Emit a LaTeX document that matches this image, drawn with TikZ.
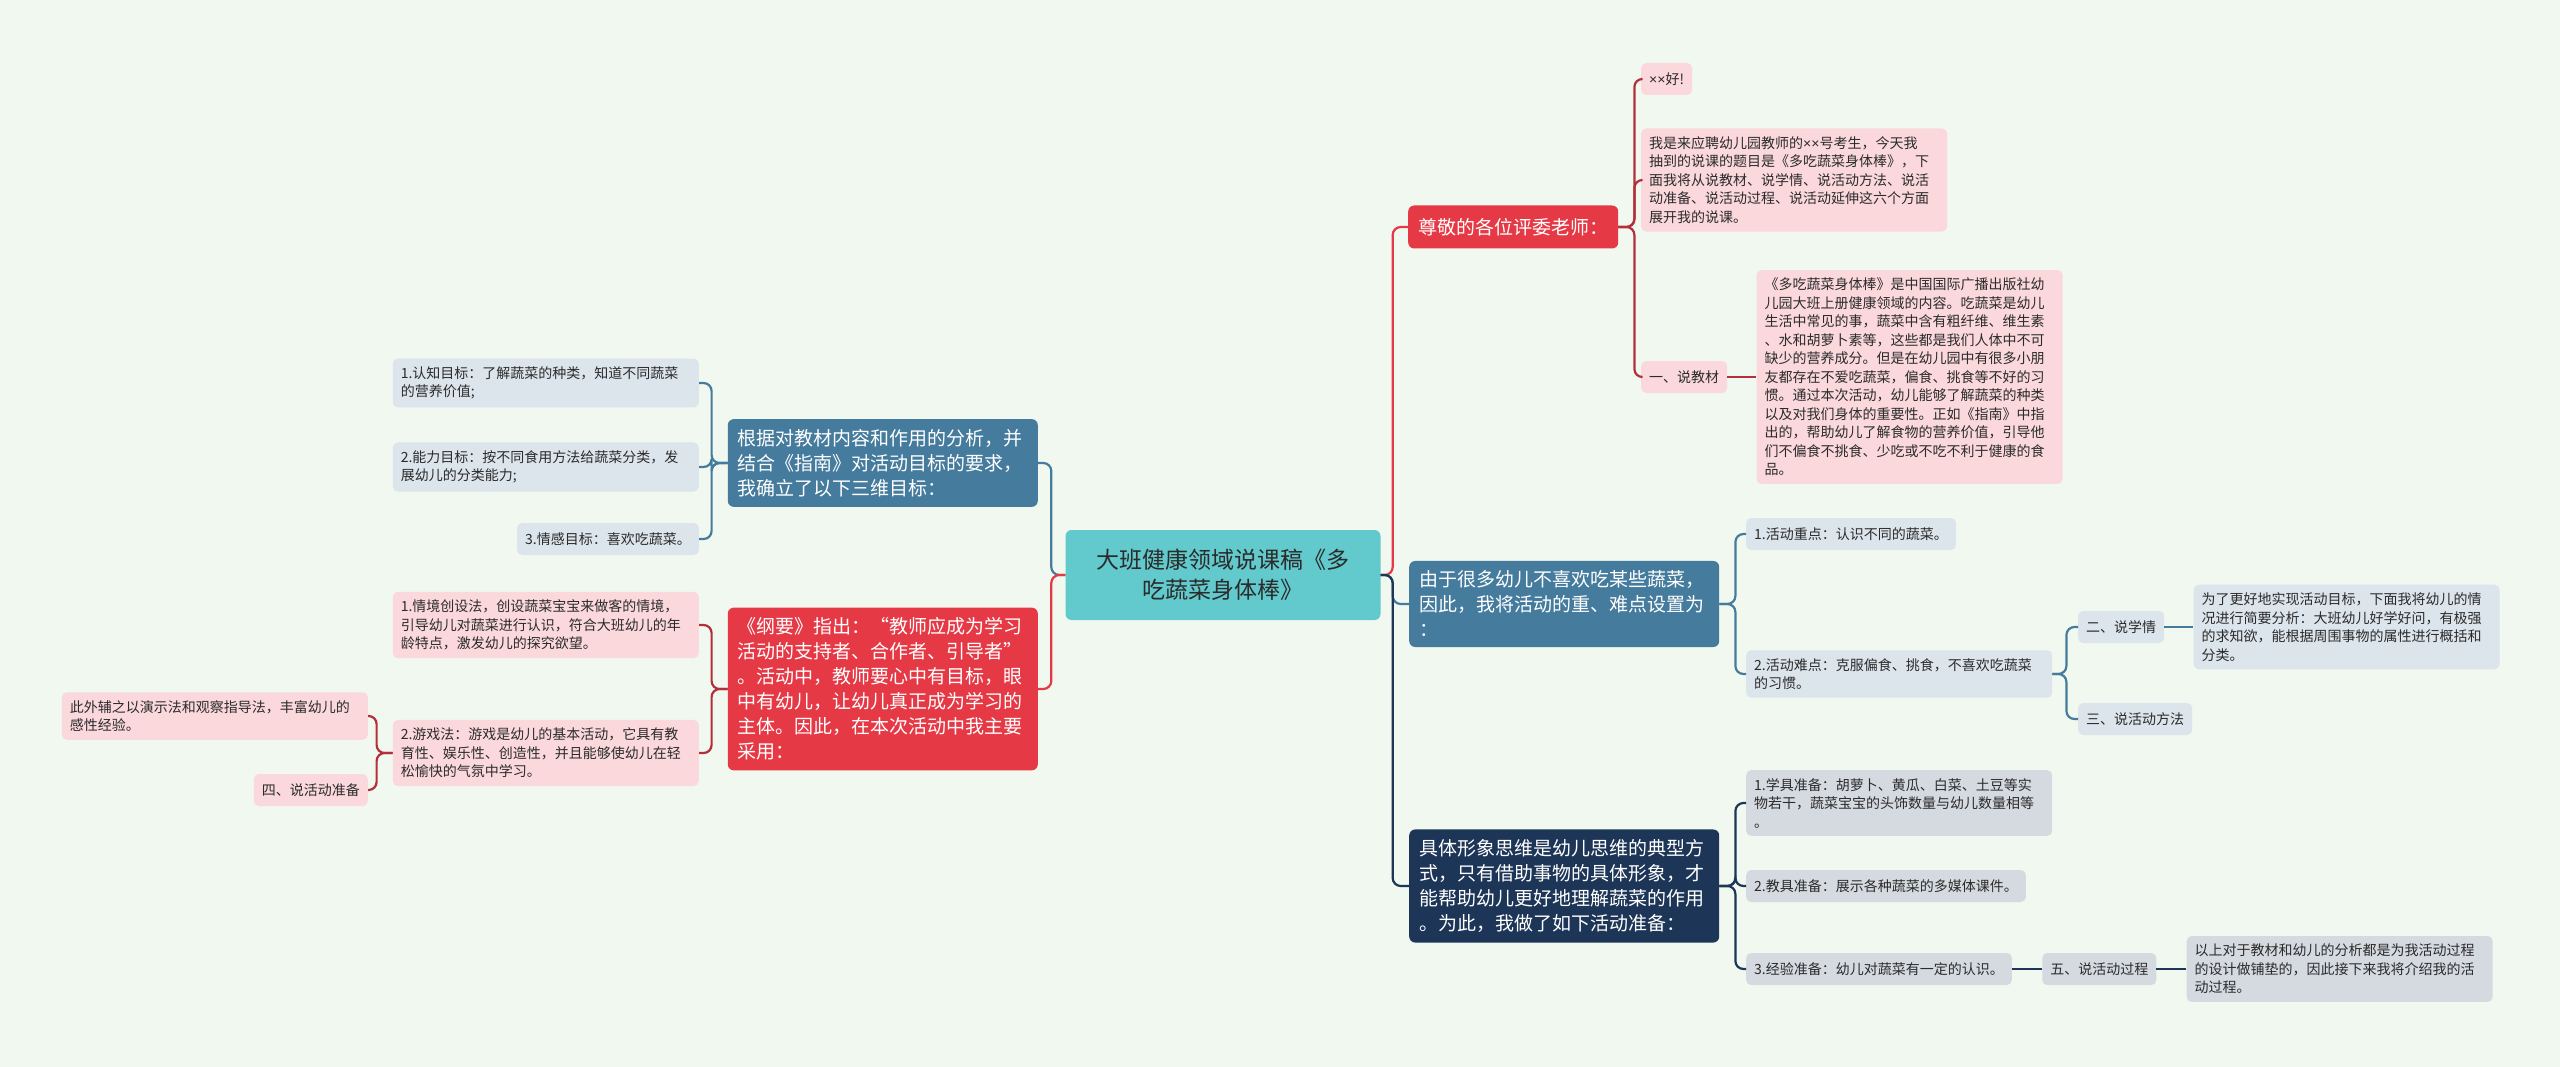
\documentclass[tikz,border=0pt]{standalone}
\usepackage{fontspec}
\setmainfont{Noto Sans CJK SC}
\newfontfamily\latinfont{Liberation Sans}
\usetikzlibrary{positioning}
\definecolor{bg}{HTML}{F1F8EF}
\definecolor{tealroot}{HTML}{62C9CC}
\definecolor{steel}{HTML}{457B9D}
\definecolor{crimson}{HTML}{E63946}
\definecolor{darkred}{HTML}{B3303B}
\definecolor{navy}{HTML}{1D3557}
\definecolor{pinkbox}{HTML}{FAD8DC}
\definecolor{bluebox}{HTML}{DCE4EC}
\definecolor{greybox}{HTML}{D5D9E0}
\definecolor{txt}{HTML}{2B2B2B}
\newcommand{\xx}{{\latinfont ××}}

\begin{document}
\begin{tikzpicture}[
  x=1pt, y=-1pt,
  rootbox/.style={fill=tealroot, rounded corners=6pt, text=txt, align=center, text width=290pt, inner xsep=12.5pt, minimum height=90pt, font=\fontsize{23}{30}\selectfont},
  mainbox/.style={rounded corners=6pt, text=white, align=left, inner xsep=10pt, inner ysep=10pt, minimum height=43pt, font=\fontsize{19}{25}\selectfont},
  mainwide/.style={mainbox, text width=290pt},
  leaf/.style={rounded corners=5pt, text=txt, align=left, inner xsep=8pt, inner ysep=8pt, minimum height=32pt, font=\fontsize{14}{18.5}\selectfont},
  pinkleaf/.style={leaf, fill=pinkbox},
  blueleaf/.style={leaf, fill=bluebox},
  greyleaf/.style={leaf, fill=greybox},
  wide/.style={text width=290pt},
  conn/.style={line width=2.2pt, rounded corners=8pt},
]
\fill[bg] (0,0) rectangle (2560,1067);
\useasboundingbox (0,0) rectangle (2560,1067);

% centre
\node[rootbox] (root) at (1223,575) {大班健康领域说课稿《多\\吃蔬菜身体棒》};

% left branches
\node[mainwide, fill=steel, anchor=east] (b1) at (1038,463) {根据对教材内容和作用的分析，并\\结合《指南》对活动目标的要求，\\我确立了以下三维目标：};
\node[mainwide, fill=crimson, anchor=east] (r1) at (1038,689) {《纲要》指出：“教师应成为学习\\活动的支持者、合作者、引导者”\\。活动中，教师要心中有目标，眼\\中有幼儿，让幼儿真正成为学习的\\主体。因此，在本次活动中我主要\\采用：};

\node[blueleaf, wide, anchor=east] (l1) at (699,383) {1.认知目标：了解蔬菜的种类，知道不同蔬菜\\的营养价值;};
\node[blueleaf, wide, anchor=east] (l2) at (699,467) {2.能力目标：按不同食用方法给蔬菜分类，发\\展幼儿的分类能力;};
\node[blueleaf, anchor=east] (l3) at (699,539) {3.情感目标：喜欢吃蔬菜。};

\node[pinkleaf, wide, anchor=east] (p1) at (699,625) {1.情境创设法，创设蔬菜宝宝来做客的情境，\\引导幼儿对蔬菜进行认识，符合大班幼儿的年\\龄特点，激发幼儿的探究欲望。};
\node[pinkleaf, wide, anchor=east] (p2) at (699,753) {2.游戏法：游戏是幼儿的基本活动，它具有教\\育性、娱乐性、创造性，并且能够使幼儿在轻\\松愉快的气氛中学习。};
\node[pinkleaf, wide, anchor=east] (q1) at (368,716) {此外辅之以演示法和观察指导法，丰富幼儿的\\感性经验。};
\node[pinkleaf, anchor=east] (q2) at (368,790) {四、说活动准备};

% right branches
\node[mainbox, fill=crimson, anchor=west] (rr1) at (1408,227) {尊敬的各位评委老师：};
\node[mainwide, fill=steel, anchor=west] (rb) at (1409,604) {由于很多幼儿不喜欢吃某些蔬菜，\\因此，我将活动的重、难点设置为\\：};
\node[mainwide, fill=navy, anchor=west] (rn) at (1409,886) {具体形象思维是幼儿思维的典型方\\式，只有借助事物的具体形象，才\\能帮助幼儿更好地理解蔬菜的作用\\。为此，我做了如下活动准备：};

\node[pinkleaf, anchor=west] (g1) at (1641,79) {\xx 好!};
\node[pinkleaf, wide, anchor=west] (g2) at (1641,180) {我是来应聘幼儿园教师的\xx 号考生，今天我\\抽到的说课的题目是《多吃蔬菜身体棒》，下\\面我将从说教材、说学情、说活动方法、说活\\动准备、说活动过程、说活动延伸这六个方面\\展开我的说课。};
\node[pinkleaf, anchor=west] (g3) at (1641,377) {一、说教材};
\node[pinkleaf, wide, right=29pt of g3] (g4) {《多吃蔬菜身体棒》是中国国际广播出版社幼\\儿园大班上册健康领域的内容。吃蔬菜是幼儿\\生活中常见的事，蔬菜中含有粗纤维、维生素\\、水和胡萝卜素等，这些都是我们人体中不可\\缺少的营养成分。但是在幼儿园中有很多小朋\\友都存在不爱吃蔬菜，偏食、挑食等不好的习\\惯。通过本次活动，幼儿能够了解蔬菜的种类\\以及对我们身体的重要性。正如《指南》中指\\出的，帮助幼儿了解食物的营养价值，引导他\\们不偏食不挑食、少吃或不吃不利于健康的食\\品。};

\node[blueleaf, anchor=west] (d1) at (1746,534) {1.活动重点：认识不同的蔬菜。};
\node[blueleaf, wide, anchor=west] (d2) at (1746,674) {2.活动难点：克服偏食、挑食，不喜欢吃蔬菜\\的习惯。};
\node[blueleaf, anchor=west] (e1) at (2078,627) {二、说学情};
\node[blueleaf, wide, right=29pt of e1] (e2) {为了更好地实现活动目标，下面我将幼儿的情\\况进行简要分析：大班幼儿好学好问，有极强\\的求知欲，能根据周围事物的属性进行概括和\\分类。};
\node[blueleaf, anchor=west] (e3) at (2078,719) {三、说活动方法};

\node[greyleaf, wide, anchor=west] (k1) at (1746,803) {1.学具准备：胡萝卜、黄瓜、白菜、土豆等实\\物若干，蔬菜宝宝的头饰数量与幼儿数量相等\\。};
\node[greyleaf, anchor=west] (k2) at (1746,886) {2.教具准备：展示各种蔬菜的多媒体课件。};
\node[greyleaf, anchor=west] (k3) at (1746,969) {3.经验准备：幼儿对蔬菜有一定的认识。};
\node[greyleaf, right=30pt of k3] (k4) {五、说活动过程};
\node[greyleaf, wide, right=30pt of k4] (k5) {以上对于教材和幼儿的分析都是为我活动过程\\的设计做铺垫的，因此接下来我将介绍我的活\\动过程。};

% connectors, left
\draw[conn, steel] (root.west) -- ++(-14,0) |- (b1.east);
\draw[conn, crimson] (root.west) -- ++(-14,0) |- (r1.east);
\foreach \n in {l1,l2,l3} \draw[conn, steel] (b1.west) -- ++(-16,0) |- (\n.east);
\foreach \n in {p1,p2} \draw[conn, darkred] (r1.west) -- ++(-16,0) |- (\n.east);
\foreach \n in {q1,q2} \draw[conn, darkred] (p2.west) -- ++(-16,0) |- (\n.east);

% connectors, right
\draw[conn, crimson] (root.east) -- ++(12,0) |- (rr1.west);
\draw[conn, steel] (root.east) -- ++(12,0) |- (rb.west);
\draw[conn, navy] (root.east) -- ++(12,0) |- (rn.west);
\foreach \n in {g1,g2,g3} \draw[conn, darkred] (rr1.east) -- ++(16,0) |- (\n.west);
\draw[conn, darkred] (g3.east) -- (g4.west);
\foreach \n in {d1,d2} \draw[conn, steel] (rb.east) -- ++(16,0) |- (\n.west);
\foreach \n in {e1,e3} \draw[conn, steel] (d2.east) -- ++(14,0) |- (\n.west);
\draw[conn, steel] (e1.east) -- (e2.west);
\foreach \n in {k1,k2,k3} \draw[conn, navy] (rn.east) -- ++(16,0) |- (\n.west);
\draw[conn, navy] (k3.east) -- (k4.west);
\draw[conn, navy] (k4.east) -- (k5.west);

\end{tikzpicture}
\end{document}
